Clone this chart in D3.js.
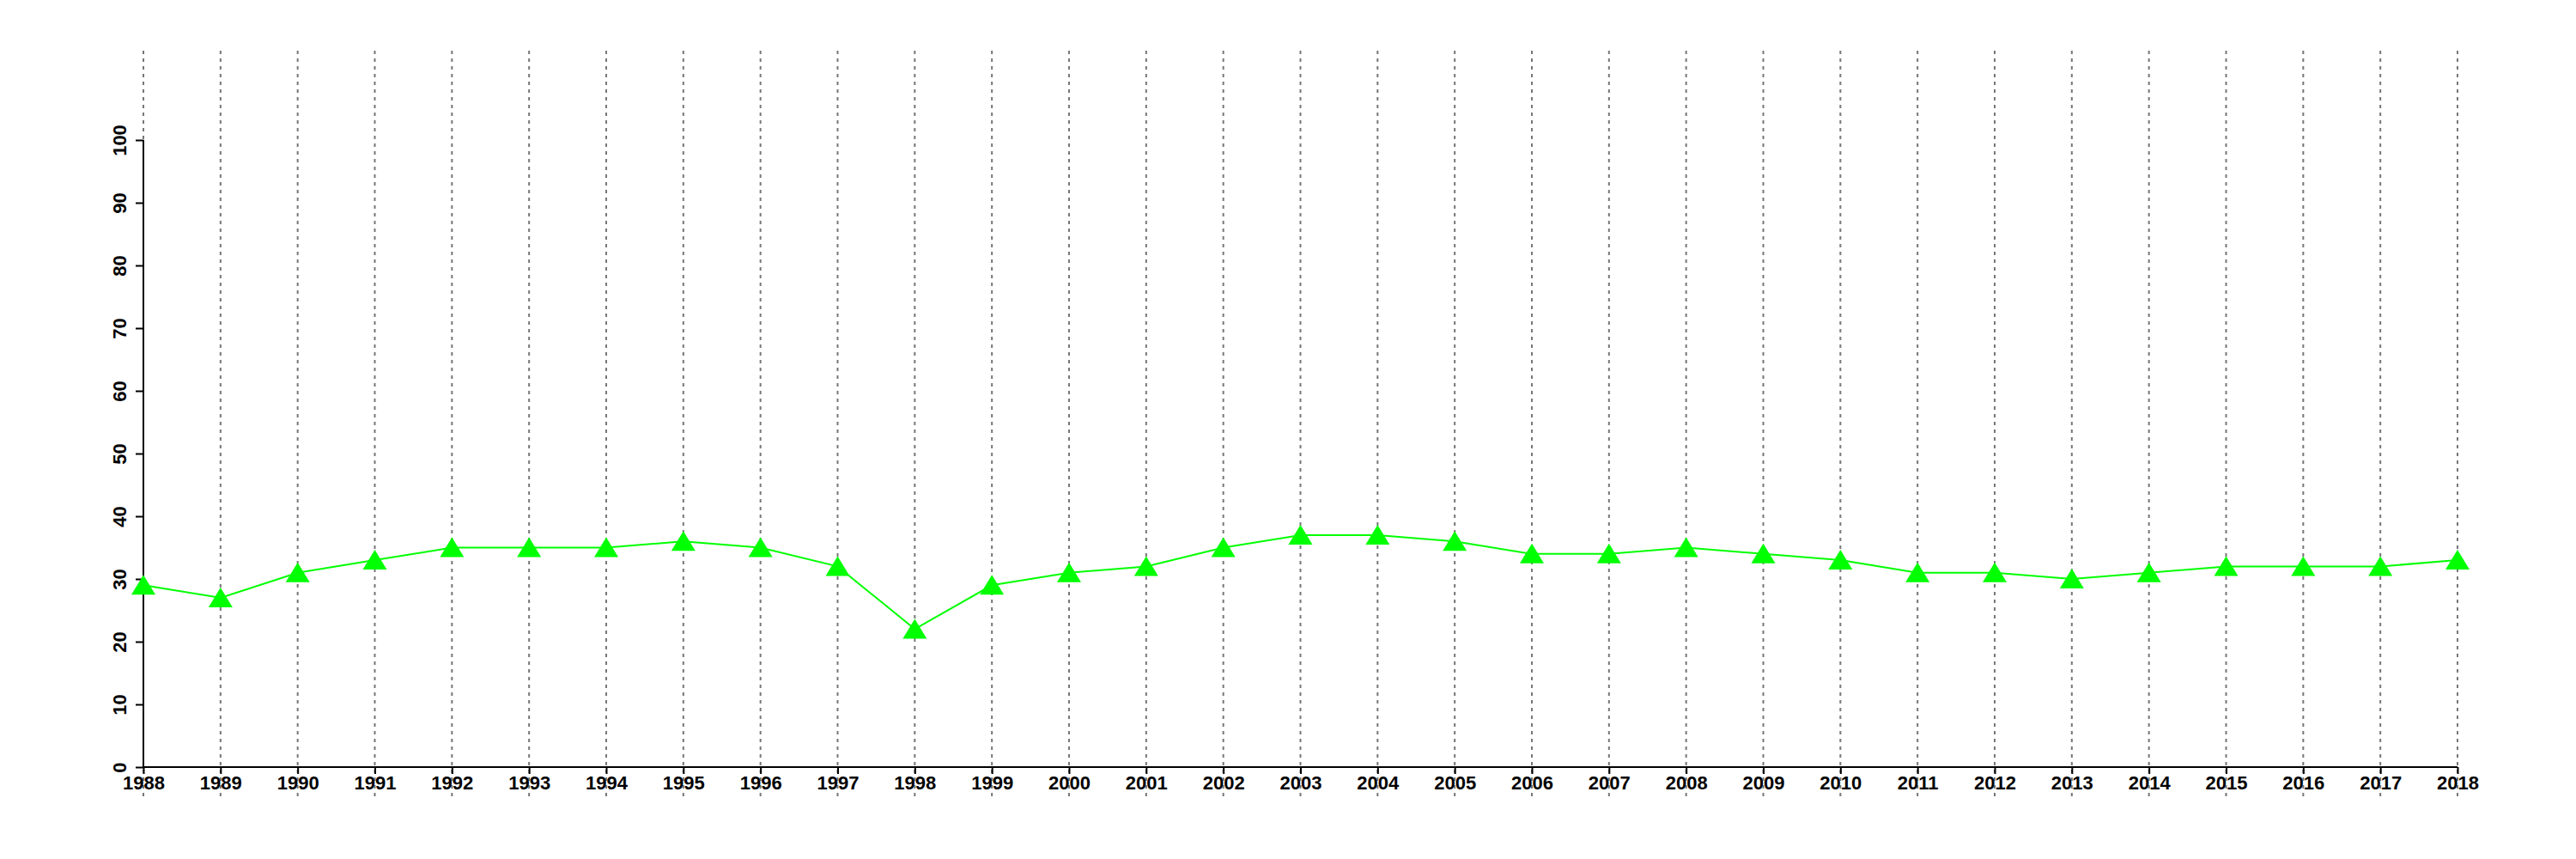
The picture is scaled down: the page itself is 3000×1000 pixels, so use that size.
<!DOCTYPE html>
<html><head><meta charset="utf-8">
<script src="https://cdn.jsdelivr.net/npm/d3@7"></script>
<style>body{margin:0;background:#fff}</style>
</head><body>
<script>
const years = [1988,1989,1990,1991,1992,1993,1994,1995,1996,1997,1998,1999,2000,2001,2002,2003,2004,2005,2006,2007,2008,2009,2010,2011,2012,2013,2014,2015,2016,2017,2018];
const values = [29,27,31,33,35,35,35,36,35,32,22,29,31,32,35,37,37,36,34,34,35,34,33,31,31,30,31,32,32,32,33];
const yTicks = [0,10,20,30,40,50,60,70,80,90,100];

const W=3000,H=1000;
const svg=d3.select("body").append("svg").attr("width",W).attr("height",H);
const x=d3.scaleLinear().domain([1988,2018]).range([167,2862]);
const y=d3.scaleLinear().domain([0,100]).range([893,163]);
const font="'Liberation Sans', Arial, sans-serif";

// grid
svg.append("g").selectAll("line").data(years).join("line")
  .attr("x1",d=>x(d)).attr("x2",d=>x(d)).attr("y1",59).attr("y2",928)
  .attr("stroke","#777").attr("stroke-width",2).attr("stroke-dasharray","4,5");

// x axis
const xa=svg.append("g").attr("transform","translate(0,893)")
  .call(d3.axisBottom(x).tickValues(years).tickFormat(d3.format("d")).tickSize(8).tickPadding(2));
xa.select(".domain").attr("stroke","#000").attr("stroke-width",2).attr("d",`M${x(1988)},0H${x(2018)}`);
xa.selectAll(".tick line").attr("stroke","#000").attr("stroke-width",2);
xa.selectAll("text").attr("font-family",font).attr("font-weight","bold").attr("font-size",22).attr("fill","#000");

// y axis
const ya=svg.append("g").attr("transform",`translate(${x(1988)},0)`)
  .call(d3.axisLeft(y).tickValues(yTicks).tickSize(9).tickPadding(0));
ya.select(".domain").attr("stroke","#000").attr("stroke-width",2).attr("d",`M0,${y(0)}V${y(100)}`);
ya.selectAll(".tick line").attr("stroke","#000").attr("stroke-width",2);
ya.selectAll("text").attr("font-family",font).attr("font-weight","bold").attr("font-size",22).attr("fill","#000")
  .attr("x",0).attr("dy",0).attr("text-anchor","middle")
  .attr("transform","translate(-20,0) rotate(-90)");

// line
svg.append("path").datum(values)
  .attr("d",d3.line().x((d,i)=>x(years[i])).y(d=>y(d)))
  .attr("fill","none").attr("stroke","#00ff00").attr("stroke-width",2);

// markers
svg.append("g").selectAll("path").data(values).join("path")
  .attr("transform",(d,i)=>`translate(${x(years[i])},${y(d)})`)
  .attr("d","M0,-12L14,11L-14,11Z").attr("fill","#00ff00");
</script>
</body></html>
